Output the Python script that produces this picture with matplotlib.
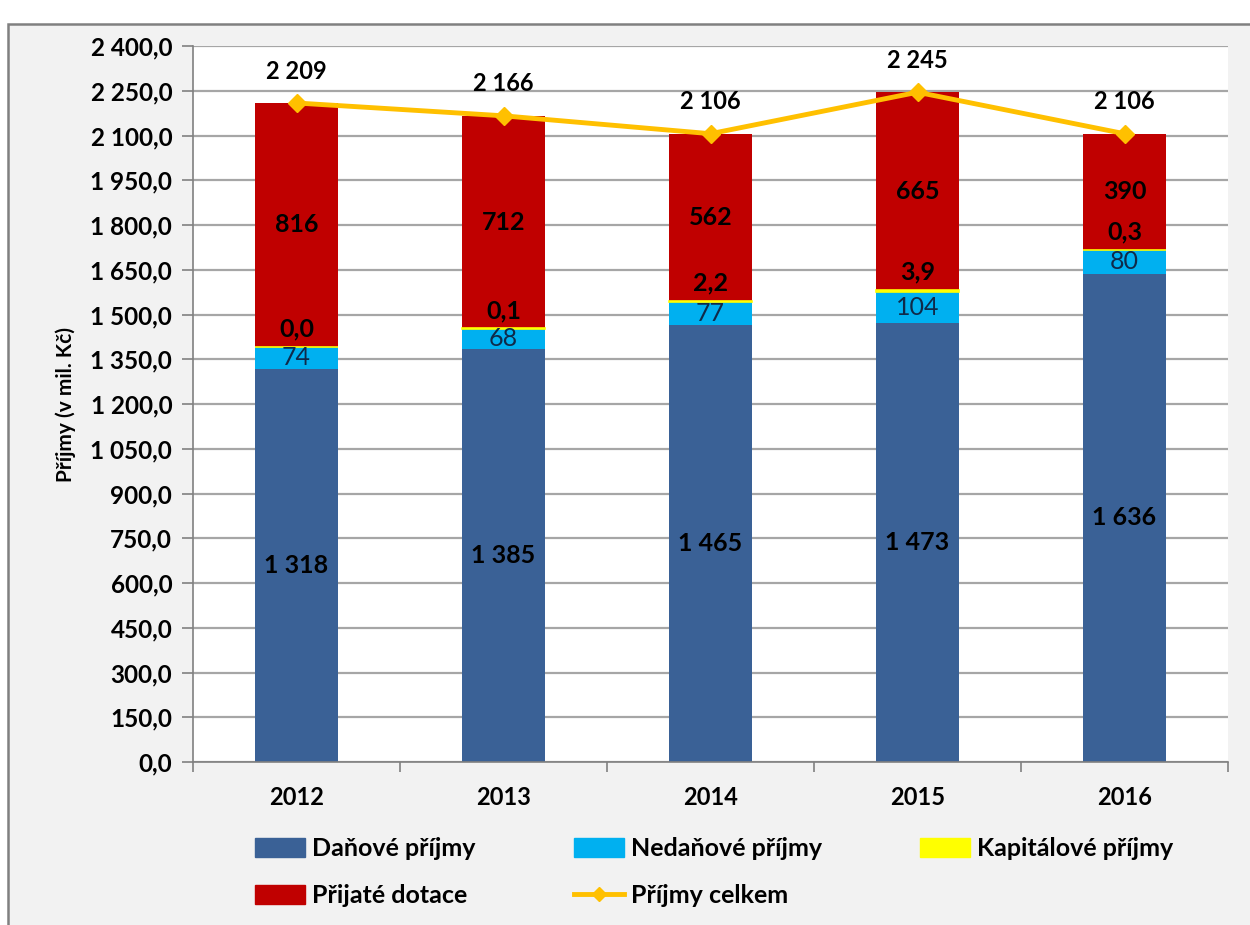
import numpy as np
import matplotlib
matplotlib.use("Agg")
import matplotlib.pyplot as plt
from matplotlib.patches import Rectangle
from matplotlib.lines import Line2D
from matplotlib.ticker import FuncFormatter, MultipleLocator

plt.rcParams['font.family'] = ['Lato', 'DejaVu Sans']

# data (mil. Kč)
years = ['2012', '2013', '2014', '2015', '2016']
danove = [1318, 1385, 1465, 1473, 1636]
nedanove = [74, 68, 77, 104, 80]
kapitalove = [0.0, 0.1, 2.2, 3.9, 0.3]
dotace = [816, 712, 562, 665, 390]
celkem = [2209, 2166, 2106, 2245, 2106]

c_dan = '#3A6196'
c_ned = '#00B0F0'
c_kap = '#FFFF00'
c_dot = '#C00000'
c_line = '#FFC000'


def cz(v, dec):
    s = f"{v:,.{dec}f}"
    return s.replace(',', ' ').replace('.', ',')


fig = plt.figure(figsize=(12.5, 9.25), dpi=100, facecolor='white')

# grey chart area with border
fig.patches.append(Rectangle((8 / 1250, -0.02), 1.05, 1 - 24 / 925 + 0.02,
                             transform=fig.transFigure, facecolor='#F2F2F2',
                             edgecolor='#808080', linewidth=1.8, zorder=-10))

ax = fig.add_axes([193 / 1250, 1 - 762 / 925, (1228 - 193) / 1250, (762 - 46) / 925])
ax.set_facecolor('white')

x = np.arange(len(years))
w = 0.40
b1 = np.array(danove, dtype=float)
b2 = b1 + nedanove
b3 = b2 + kapitalove

ax.bar(x, danove, w, color=c_dan, zorder=2)
ax.bar(x, nedanove, w, bottom=b1, color=c_ned, zorder=2)
ax.bar(x, kapitalove, w, bottom=b2, color=c_kap, edgecolor=c_kap, linewidth=1.2, zorder=3)
ax.bar(x, dotace, w, bottom=b3, color=c_dot, zorder=2)
ax.plot(x, celkem, color=c_line, lw=3.5, marker='D', ms=9, zorder=4)

# labels
for i in range(len(years)):
    ax.text(x[i], danove[i] / 2, cz(danove[i], 0), ha='center', va='center',
            fontsize=18, fontweight='bold', color='black', zorder=5)
    ax.text(x[i], b1[i] + nedanove[i] / 2, cz(nedanove[i], 0), ha='center', va='center',
            fontsize=18, color='#0F2A4A', zorder=5)
    ax.annotate(cz(kapitalove[i], 1), (x[i], b3[i]), xytext=(0, 13), textcoords='offset points',
                ha='center', va='center', fontsize=18, fontweight='bold', color='black', zorder=5)
    ax.text(x[i], b3[i] + dotace[i] / 2, cz(dotace[i], 0), ha='center', va='center',
            fontsize=18, fontweight='bold', color='black', zorder=5)
    ax.annotate(cz(celkem[i], 0), (x[i], celkem[i]), xytext=(0, 23), textcoords='offset points',
                ha='center', va='center', fontsize=17, fontweight='bold', color='black', zorder=5)

ax.set_xlim(-0.5, len(years) - 0.5)
ax.set_ylim(0, 2400)
ax.yaxis.set_major_locator(MultipleLocator(150))
ax.yaxis.set_major_formatter(FuncFormatter(lambda v, p: cz(v, 1)))
ax.grid(axis='y', color='#A6A6A6', linewidth=1.6, zorder=0)
ax.set_axisbelow(True)

ax.set_xticks(x)
ax.set_xticklabels(years)
ax.set_xticks(np.arange(-0.5, len(years)), minor=True)
ax.tick_params(axis='x', which='major', length=0, pad=17, labelsize=17)
ax.tick_params(axis='x', which='minor', length=7, color='#808080', width=1.2)
ax.tick_params(axis='y', length=8, color='#808080', width=1.2, pad=7, labelsize=17.5)
for lab in ax.get_xticklabels() + ax.get_yticklabels():
    lab.set_fontweight('bold')

for s in ['top', 'right']:
    ax.spines[s].set_visible(False)
ax.spines['left'].set_color('#808080')
ax.spines['bottom'].set_color('#808080')
ax.spines['left'].set_linewidth(1.2)
ax.spines['bottom'].set_linewidth(1.2)

ax.set_ylabel('Příjmy (v mil. Kč)', fontsize=15, fontweight='bold', labelpad=10)

h_dan = Rectangle((0, 0), 1, 1, color=c_dan)
h_ned = Rectangle((0, 0), 1, 1, color=c_ned)
h_kap = Rectangle((0, 0), 1, 1, color=c_kap)
h_dot = Rectangle((0, 0), 1, 1, color=c_dot)
h_line = Line2D([], [], color=c_line, lw=3.5, marker='D', ms=7)
handles = [h_dan, h_dot, h_ned, h_line, h_kap]
labels = ['Daňové příjmy', 'Přijaté dotace', 'Nedaňové příjmy', 'Příjmy celkem', 'Kapitálové příjmy']
leg = fig.legend(handles, labels, ncol=3, loc='upper left', bbox_to_anchor=(255 / 1250, 1 - 837 / 925),
                 frameon=False, borderaxespad=0, borderpad=0, handlelength=2.0,
                 handleheight=0.8, handletextpad=0.3, columnspacing=3.9, labelspacing=0.95,
                 prop={'weight': 'bold', 'size': 18})

fig.savefig('out.png', dpi=100, facecolor=fig.get_facecolor())
